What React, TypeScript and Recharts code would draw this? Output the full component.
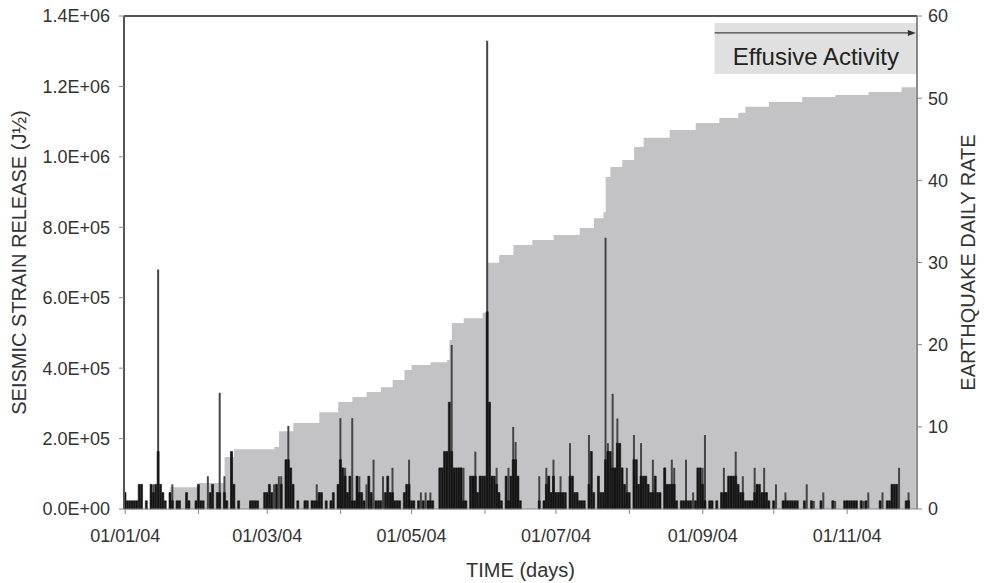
import React from "react";
import {
  ComposedChart,
  Area,
  Bar,
  XAxis,
  YAxis,
  ReferenceArea,
  ReferenceLine,
} from "recharts";

// days counted from 01/01/04 (day 0) to 30/11/04 (day 334)
const DAYS = 335;

const monthStarts = [0, 31, 60, 91, 121, 152, 182, 213, 244, 274, 305];
const monthLabels = ["01/01/04", "", "01/03/04", "", "01/05/04", "", "01/07/04", "", "01/09/04", "", "01/11/04"];
const strainTicks = [0, 200000, 400000, 600000, 800000, 1000000, 1200000, 1400000];
const rateTicks = [0, 10, 20, 30, 40, 50, 60];

// cumulative curve (grey area), read at the steps: [day, value]
const cumulative: [number, number][] = [
  [0, 0], [19, 62000], [31, 74000], [42, 148000], [46, 170000], [63, 176000], [65, 221000],
  [71, 244000], [82, 275000], [90, 304000], [96, 318000], [102, 332000], [108, 346000],
  [113, 366000], [118, 395000], [121, 409000], [129, 417000], [136, 423000], [137, 480000],
  [138, 528000], [143, 542000], [151, 557000], [153, 699000], [158, 721000], [164, 750000],
  [172, 764000], [181, 778000], [192, 798000], [198, 826000], [202, 843000], [203, 943000],
  [205, 971000], [210, 991000], [215, 1028000], [219, 1054000], [230, 1076000], [241, 1096000],
  [251, 1110000], [259, 1125000], [262, 1142000], [272, 1156000], [286, 1170000], [300, 1176000],
  [314, 1184000], [328, 1198000], [334, 1204000],
];

// daily seismic strain release (dark grey lines): [day, value]
const strainRelease: [number, number][] = [
  [12, 70000], [14, 680000], [20, 70000], [35, 93000], [40, 330000], [42, 93000], [45, 163000],
  [63, 70000], [65, 93000], [66, 93000], [69, 236000], [81, 70000], [91, 258000], [93, 117000],
  [96, 258000], [99, 93000], [102, 70000], [105, 140000], [109, 93000], [113, 117000],
  [120, 140000], [125, 47000], [127, 47000], [129, 47000], [138, 466000], [141, 117000],
  [142, 117000], [143, 117000], [148, 163000], [153, 1330000], [157, 117000], [162, 117000],
  [164, 233000], [165, 190000], [175, 93000], [178, 117000], [179, 93000], [181, 140000],
  [184, 93000], [188, 187000], [196, 210000], [203, 770000], [204, 187000], [206, 327000],
  [208, 257000], [212, 117000], [215, 210000], [218, 187000], [223, 140000], [228, 117000],
  [231, 140000], [232, 117000], [237, 140000], [240, 47000], [244, 117000], [245, 210000],
  [253, 117000], [254, 47000], [258, 163000], [261, 93000], [266, 117000], [270, 117000],
  [275, 70000], [279, 47000], [288, 70000], [291, 23000], [295, 47000], [300, 23000],
  [312, 23000], [314, 47000], [320, 47000], [327, 117000], [331, 47000],
];

// earthquake daily rate (black bars): [day, count]
const dailyRate: [number, number][] = [
  [0, 2], [1, 1], [2, 1], [3, 1], [4, 1], [5, 1], [6, 3], [7, 3], [9, 1], [11, 3], [12, 2], [13, 3],
  [14, 7], [15, 3], [16, 2], [17, 1], [19, 2], [20, 1], [22, 1], [23, 1], [26, 2], [27, 1], [30, 1],
  [31, 3], [32, 1], [33, 1], [36, 2], [37, 3], [39, 2], [40, 2], [42, 2], [43, 1], [45, 7], [46, 3],
  [48, 1], [53, 1], [54, 1], [55, 1], [56, 1], [59, 2], [60, 2], [61, 3], [62, 2], [64, 3], [66, 3],
  [68, 6], [69, 6], [70, 5], [71, 3], [73, 1], [76, 1], [77, 1], [79, 1], [80, 1], [81, 1], [82, 2],
  [83, 2], [85, 1], [87, 1], [88, 2], [90, 3], [91, 6], [92, 5], [93, 4], [94, 2], [95, 4], [96, 1],
  [97, 1], [98, 4], [99, 2], [100, 2], [101, 1], [103, 4], [104, 2], [106, 1], [107, 1], [108, 1],
  [110, 2], [111, 4], [112, 2], [113, 2], [114, 1], [115, 1], [116, 1], [118, 2], [119, 3], [120, 3],
  [121, 1], [122, 1], [124, 1], [126, 1], [128, 1], [129, 1], [130, 1], [133, 5], [134, 5], [135, 7],
  [136, 7], [137, 13], [138, 7], [139, 5], [140, 5], [141, 5], [142, 5], [143, 1], [144, 1], [146, 4],
  [147, 4], [148, 4], [149, 2], [150, 4], [151, 4], [152, 4], [153, 24], [154, 13], [155, 4], [156, 4],
  [157, 3], [158, 2], [159, 1], [161, 4], [162, 1], [163, 4], [164, 6], [165, 6], [166, 4], [167, 1],
  [175, 1], [177, 1], [178, 3], [179, 4], [180, 2], [181, 4], [182, 2], [183, 2], [184, 2], [185, 2],
  [186, 2], [188, 4], [189, 4], [190, 2], [191, 2], [192, 1], [193, 1], [194, 1], [196, 3], [197, 7],
  [198, 2], [200, 4], [201, 2], [202, 2], [203, 6], [204, 7], [205, 7], [206, 5], [207, 5], [208, 8],
  [209, 8], [210, 5], [211, 3], [212, 2], [213, 2], [215, 6], [216, 6], [217, 3], [218, 4], [219, 4],
  [220, 4], [221, 3], [222, 2], [223, 2], [224, 4], [225, 2], [226, 2], [228, 5], [229, 3], [230, 3],
  [231, 3], [232, 3], [233, 1], [235, 1], [236, 1], [237, 1], [238, 1], [239, 1], [241, 1], [242, 5],
  [243, 5], [244, 3], [245, 1], [247, 1], [248, 1], [250, 1], [252, 2], [253, 2], [254, 2], [255, 4],
  [256, 4], [257, 4], [258, 4], [259, 3], [260, 2], [261, 2], [262, 1], [263, 1], [264, 1], [265, 1],
  [266, 2], [267, 3], [268, 3], [269, 2], [270, 2], [271, 2], [272, 1], [274, 1], [278, 1], [279, 1],
  [280, 1], [281, 1], [282, 1], [283, 1], [284, 1], [287, 1], [290, 1], [294, 1], [299, 1], [304, 1],
  [305, 1], [306, 1], [307, 1], [308, 1], [309, 1], [311, 1], [313, 1], [319, 1], [322, 1], [323, 1],
  [324, 3], [325, 3], [326, 3], [330, 1], [331, 1],
];

type Row = { day: number; cum?: number; strain?: number; rate?: number };

const rows: Row[] = Array.from({ length: DAYS }, (_, day) => ({ day }));
cumulative.forEach(([d, v]) => (rows[d].cum = v));
strainRelease.forEach(([d, v]) => (rows[d].strain = v));
dailyRate.forEach(([d, v]) => (rows[d].rate = v));

const sci = (v: number) => {
  if (v === 0) return "0.0E+00";
  const e = Math.floor(Math.log10(v) + 1e-9);
  const m = v / Math.pow(10, e);
  return `${m.toFixed(1)}E+${String(e).padStart(2, "0")}`;
};

const ArrowLine = (props: any) => {
  const { x1, y1, x2, y2 } = props;
  return (
    <g>
      <line x1={x1} y1={y1} x2={x2 - 5} y2={y2} stroke="#444" strokeWidth={1.2} />
      <polygon points={`${x2 - 8},${y2 - 3} ${x2},${y2} ${x2 - 8},${y2 + 3}`} fill="#333" />
    </g>
  );
};

const tickStyle = { fontSize: 18, fill: "#333" };
const titleStyle = { fontSize: 20, fill: "#333" };

export default function App() {
  return (
    <div style={{ width: 972, height: 583, marginTop: -8, fontFamily: "'Liberation Sans', Arial, sans-serif" }}>
      <ComposedChart
        width={972}
        height={583}
        data={rows}
        margin={{ top: 16, right: 0, bottom: 0, left: 0 }}
        barCategoryGap={0}
      >
        <XAxis
          xAxisId="t"
          dataKey="day"
          type="number"
          domain={[-0.5, 334.5]}
          allowDataOverflow
          ticks={monthStarts}
          interval={0}
          tickFormatter={(v) => monthLabels[monthStarts.indexOf(v)] ?? ""}
          height={74}
          tickSize={5}
          tickMargin={15}
          tick={tickStyle}
          axisLine={{ stroke: "#888" }}
          tickLine={{ stroke: "#888" }}
          label={{ value: "TIME (days)", position: "insideBottom", offset: 6, ...titleStyle }}
        />
        <XAxis xAxisId="cs" dataKey="day" type="category" height={0} hide />
        <XAxis xAxisId="cr" dataKey="day" type="category" height={0} hide />
        <YAxis
          yAxisId="left"
          width={116}
          domain={[0, 1400000]}
          ticks={strainTicks}
          interval={0}
          tickFormatter={sci}
          tickSize={5}
          tickMargin={9}
          tick={tickStyle}
          axisLine={{ stroke: "#555", strokeWidth: 2 }}
          tickLine={{ stroke: "#888" }}
          label={{
            value: "SEISMIC STRAIN RELEASE (J½)",
            angle: -90,
            position: "insideLeft",
            offset: 11,
            style: { textAnchor: "middle" },
            ...titleStyle,
          }}
        />
        <YAxis
          yAxisId="right"
          orientation="right"
          width={63}
          domain={[0, 60]}
          ticks={rateTicks}
          interval={0}
          tickSize={5}
          tickMargin={6}
          tick={tickStyle}
          axisLine={{ stroke: "#666", strokeWidth: 1.5 }}
          tickLine={{ stroke: "#888" }}
          label={{
            value: "EARTHQUAKE DAILY RATE",
            angle: -90,
            position: "insideRight",
            offset: 12,
            style: { textAnchor: "middle" },
            ...titleStyle,
          }}
        />
        <Area
          xAxisId="t"
          yAxisId="left"
          dataKey="cum"
          type="stepAfter"
          connectNulls
          stroke="none"
          fill="#c3c3c6"
          fillOpacity={1}
          isAnimationActive={false}
        />
        <Bar
          xAxisId="cs"
          yAxisId="left"
          dataKey="strain"
          barSize={2}
          fill="#454545"
          isAnimationActive={false}
        />
        <Bar
          xAxisId="cr"
          yAxisId="right"
          dataKey="rate"
          fill="#151515"
          stroke="#151515"
          strokeWidth={0.6}
          isAnimationActive={false}
        />
        <ReferenceLine xAxisId="t" yAxisId="left" y={1400000} stroke="#555" strokeWidth={2} />
        <ReferenceArea
          xAxisId="t"
          yAxisId="left"
          x1={249}
          x2={334.5}
          y1={1235000}
          y2={1380000}
          fill="#e0e0e0"
          fillOpacity={1}
          stroke="none"
          label={{ value: "Effusive Activity", position: "insideBottom", offset: 9, fontSize: 24, fill: "#222" }}
        />
        <ReferenceLine
          xAxisId="t"
          yAxisId="left"
          segment={[
            { x: 249, y: 1352000 },
            { x: 334, y: 1352000 },
          ]}
          shape={ArrowLine}
        />
      </ComposedChart>
    </div>
  );
}
